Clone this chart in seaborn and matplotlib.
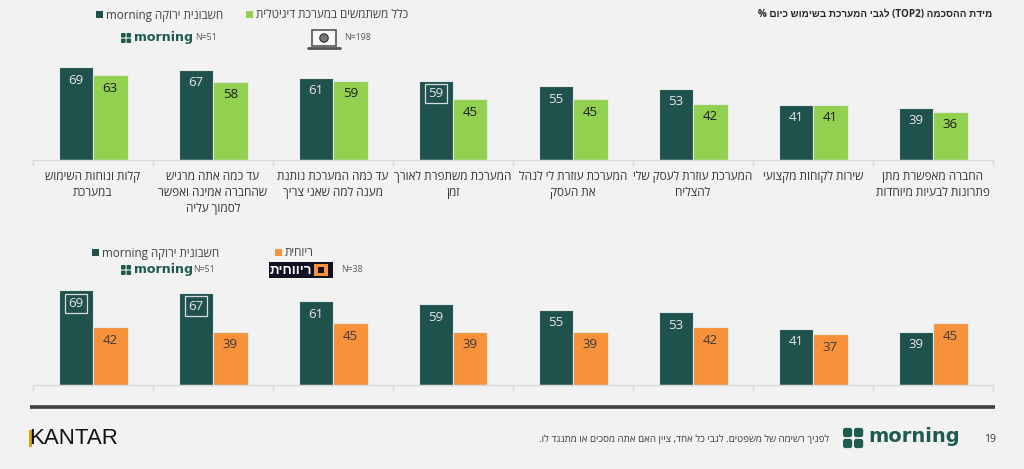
import re
import numpy as np
import pandas as pd
import matplotlib
matplotlib.use("Agg")
import matplotlib.pyplot as plt
from matplotlib.patches import Rectangle, FancyBboxPatch, Circle
import seaborn as sns

# ---------------- data ----------------
categories = [
    "קלות ונוחות השימוש\nבמערכת",
    "עד כמה אתה מרגיש\nשהחברה אמינה ואפשר\nלסמוך עליה",
    "עד כמה המערכת נותנת\nמענה למה שאני צריך",
    "המערכת משתפרת לאורך\nזמן",
    "המערכת עוזרת לי לנהל\nאת העסק",
    "המערכת עוזרת לעסק שלי\nלהצליח",
    "שירות לקוחות מקצועי",
    "החברה מאפשרת מתן\nפתרונות לבעיות מיוחדות",
]
morning_vals = [69, 67, 61, 59, 55, 53, 41, 39]
digital_vals = [63, 58, 59, 45, 45, 42, 41, 36]
ravhit_vals = [42, 39, 45, 39, 39, 42, 37, 45]

series_morning = "חשבונית ירוקה morning"
series_digital = "כלל משתמשים במערכת דיגיטלית"
series_ravhit = "ריוחית"
n_morning = "N=51"
n_digital = "N=198"
n_ravhit = "N=38"
title = "מידת ההסכמה (TOP2) לגבי המערכת בשימוש כיום %"
footnote = "לפניך רשימה של משפטים. לגבי כל אחד, ציין האם אתה מסכים או מתנגד לו."
page_no = "19"
boxed_top = [3]
boxed_bottom = [0, 1]

# ---------------- style ----------------
BG = "#F2F2F2"
DARK = "#1F514D"
LIGHT = "#92D050"
ORANGE = "#F7923A"
LOGO_GREEN = "#1F5C4F"

sns.set_theme(style="white")
plt.rcParams["font.family"] = ["Open Sans", "Liberation Sans", "DejaVu Sans"]


def vis(s):
    """Visual (left-to-right) ordering for right-to-left Hebrew text."""
    out = []
    for line in s.split("\n"):
        r = line[::-1]
        r = re.sub(r"[A-Za-z0-9][A-Za-z0-9.=]*[A-Za-z0-9]|[A-Za-z0-9]",
                   lambda m: m.group(0)[::-1], r)
        r = r.translate(str.maketrans("()[]", ")(]["))
        out.append(r)
    return "\n".join(out)


W, H = 1024, 469
fig = plt.figure(figsize=(W / 100, H / 100), dpi=100, facecolor=BG)


def fy(y):
    return 1 - y / H


def make_axes(base_y, px_per_unit, ymax=75):
    h = px_per_unit * ymax
    ax = fig.add_axes([33 / W, fy(base_y), 960 / W, h / H])
    ax.set_facecolor("none")
    return ax


def draw_chart(ax, vals_a, vals_b, name_a, name_b, col_b, lab_col_b, boxed):
    df = pd.DataFrame({
        "cat": categories * 2,
        "value": list(vals_a) + list(vals_b),
        "series": [name_a] * len(categories) + [name_b] * len(categories),
    })
    sns.barplot(data=df, x="cat", y="value", hue="series",
                order=categories, hue_order=[name_a, name_b],
                palette=[DARK, col_b], saturation=1, width=0.575,
                legend=False, edgecolor="#E4E9E8", linewidth=0.8, ax=ax,
                errorbar=None)
    ax.set_xlim(-0.5, len(categories) - 0.5)
    ax.set_ylim(0, 75)
    for ci, cont in enumerate(ax.containers):
        for i, p in enumerate(cont.patches):
            v = p.get_height()
            kw = dict(ha="center", va="center", fontsize=9.5,
                      color="#E8E8E8" if ci == 0 else lab_col_b)
            if ci == 0 and i in boxed:
                kw["bbox"] = dict(boxstyle="square,pad=0.25", fc="none",
                                  ec="#D8DEDD", lw=0.9)
            ax.annotate(f"{v:.0f}", xy=(p.get_x() + p.get_width() / 2, v),
                        xytext=(0, -13), textcoords="offset pixels", **kw)
    for s in ["top", "right", "left"]:
        ax.spines[s].set_visible(False)
    ax.spines["bottom"].set_color("#D9D9D9")
    ax.spines["bottom"].set_linewidth(1.0)
    ax.set_yticks([])
    ax.set_xticks(np.arange(-0.5, len(categories), 1), minor=True)
    ax.tick_params(axis="x", which="minor", length=4, color="#D9D9D9",
                   width=1.0, bottom=True)
    ax.tick_params(axis="x", which="major", length=0)
    ax.set_xlabel("")
    ax.set_ylabel("")


# top chart
ax1 = make_axes(160, 1.345)
draw_chart(ax1, morning_vals, digital_vals, series_morning, series_digital,
           LIGHT, "#1A1A1A", boxed_top)
ax1.set_xticks(range(len(categories)))
ax1.set_xticklabels([vis(c) for c in categories], fontsize=8.5,
                    color="#333333", linespacing=1.3)
ax1.tick_params(axis="x", which="major", pad=7.5)

# bottom chart
ax2 = make_axes(385, 1.37)
draw_chart(ax2, morning_vals, ravhit_vals, series_morning, series_ravhit,
           ORANGE, "#3A3A3A", boxed_bottom)
ax2.set_xticks(range(len(categories)))
ax2.set_xticklabels([])

# ---------------- overlay (legends, logos, footer) ----------------
ov = fig.add_axes([0, 0, 1, 1], zorder=5)
ov.set_xlim(0, W)
ov.set_ylim(H, 0)
ov.axis("off")
ov.patch.set_visible(False)


def square(x, y, c, s=7):
    ov.add_patch(Rectangle((x, y - s / 2), s, s, fc=c, ec="none"))


def legend_item(x, y, color, label):
    square(x, y, color)
    ov.text(x + 10, y, vis(label), ha="left", va="center", fontsize=8.4,
            color="#404040")


def morning_logo(x, y, scale=1.0, fs=9.1):
    s = 4.6 * scale
    g = 0.9 * scale
    for dx in (0, s + g):
        for dy in (-s - g / 2, g / 2):
            ov.add_patch(FancyBboxPatch((x + dx, y + dy), s, s,
                                        boxstyle=f"round,pad=0,rounding_size={1.2*scale}",
                                        fc=LOGO_GREEN, ec="none"))
    ov.text(x + 2 * s + g + 2.5 * scale, y - 0.5 * scale, "morning", ha="left",
            va="center", fontsize=fs, fontweight="bold", color=LOGO_GREEN,
            family=["DejaVu Sans"])


def small(x, y, t):
    ov.text(x, y, t, ha="left", va="center", fontsize=6.3, color="#595959")


# title
ov.text(992, 15, vis(title), ha="right", va="center", fontsize=7.1,
        fontweight="bold", color="#262626")

# top legend
legend_item(96, 15, DARK, series_morning)
legend_item(246, 15, LIGHT, series_digital)
morning_logo(121, 38)
small(195, 38, n_morning)
# laptop icon
ov.add_patch(Rectangle((312, 30), 24, 16, fc="#F7F7F7", ec="#555555", lw=1.2))
ov.add_patch(Circle((324, 38), 4.2, fc="#777777", ec="#333333", lw=0.8))
ov.plot([308, 340], [48, 48], color="#555555", lw=2, solid_capstyle="round")
small(344, 38, n_digital)

# bottom legend
legend_item(92, 253, DARK, series_morning)
legend_item(275, 253, ORANGE, series_ravhit)
morning_logo(121, 270)
small(193, 270, n_morning)
ov.add_patch(Rectangle((269, 262), 64, 16, fc="#111122", ec="none"))
ov.add_patch(Rectangle((314, 264), 14, 12, fc=ORANGE, ec="none"))
ov.add_patch(Rectangle((318, 267), 6, 6, fc="#111122", ec="none"))
ov.text(291, 270.5, vis("ריווחית"), ha="center", va="center", fontsize=9.5,
        fontweight="bold", color="white")
small(341, 270, n_ravhit)

# footer
ov.plot([30, 995], [407, 407], color="#3F3F3F", lw=2.6, solid_capstyle="butt")
ov.add_patch(Rectangle((29, 430), 2.5, 17, fc="#D4A017", ec="none"))
ov.text(29, 439, "KANTAR", ha="left", va="center", fontsize=16,
        color="#111111", family=["Liberation Sans Narrow", "Liberation Sans", "DejaVu Sans"])
ov.text(829, 439, vis(footnote), ha="right", va="center", fontsize=7,
        color="#404040")
morning_logo(843, 438, scale=2.0, fs=14)
ov.text(990, 439, page_no, ha="center", va="center", fontsize=7.5,
        color="#333333")

fig.savefig("out.png", dpi=100, facecolor=BG)
